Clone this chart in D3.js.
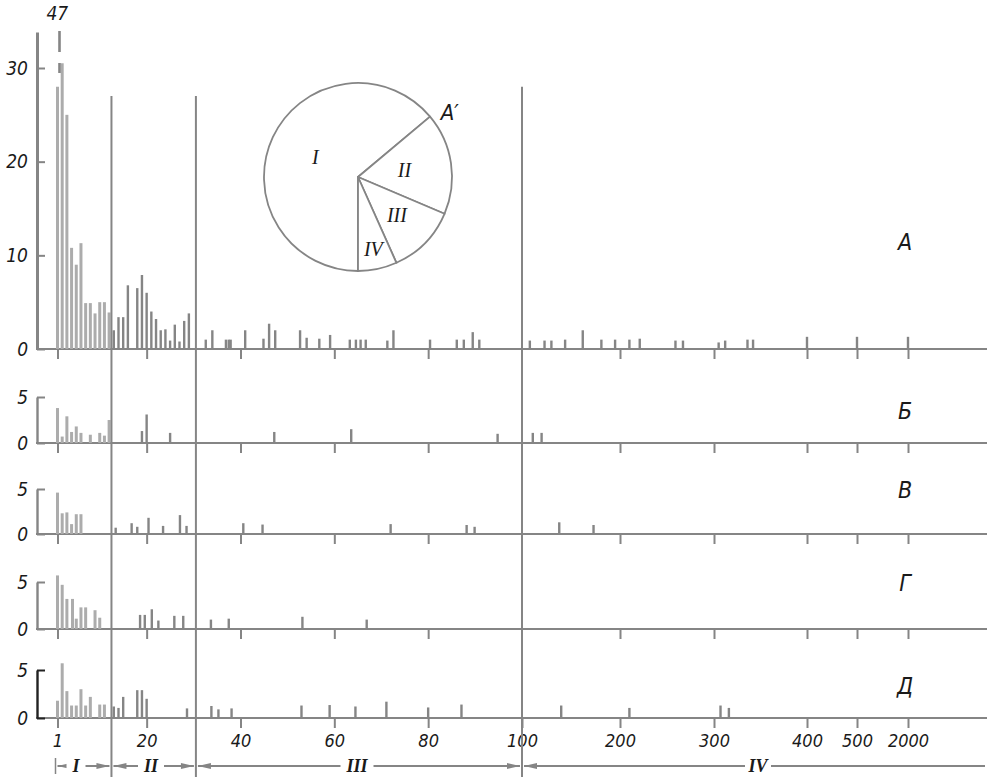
<!DOCTYPE html>
<html>
<head>
<meta charset="utf-8">
<script src="https://cdn.jsdelivr.net/npm/d3@7"></script>
<style>
  body { margin: 0; background: #fff; }
  .num { font-family: "DejaVu Sans Condensed", "DejaVu Sans", sans-serif; font-style: italic; fill: #1a1a1a; }
  .rom { font-family: "Liberation Serif", "DejaVu Serif", serif; font-style: italic; fill: #1a1a1a; }
</style>
</head>
<body>
<div id="chart"></div>
<script>
// x positions are species/group sizes, values are counts
const xTickValues = [1, 20, 40, 60, 80, 100, 200, 300, 400, 500, 2000];
const xTickLabels = ["1", "20", "40", "60", "80", "100", "200", "300", "400", "500", "2000"];
const regionNames = ["I", "II", "III", "IV"];
const regionBounds = [12.5, 30.5, 100];
const panelLetters = ["А", "Б", "В", "Г", "Д"];
const yTicksA = [0, 10, 20, 30];
const yTicksLow = [0, 5];
const pieShares = [63.9, 17.5, 11.9, 6.7];

const panelA = [
  [1, 47], [2, 30.5], [3, 25], [4, 10.8], [5, 9], [6, 11.3], [7, 4.9], [8, 4.9], [9, 3.8], [10, 5], [11, 5], [12, 3.9],
  [13, 2], [14, 3.4], [15, 3.4], [16, 6.8], [18, 6.5], [19, 7.9], [20, 6], [21, 4], [22, 3.2], [23, 2], [24, 2.1],
  [25, 0.9], [26, 2.6], [27, 0.8], [28, 3], [29, 3.8],
  [32.6, 1], [34, 2], [36.9, 1], [37.5, 1], [37.9, 1], [41, 2], [44.9, 1.1], [46.1, 2.7], [47.4, 2], [52.7, 2],
  [54.1, 1.2], [56.8, 1.1], [59.1, 1.5], [63.3, 1], [64.6, 1], [65.6, 1], [66.7, 1], [71.3, 0.9], [72.6, 2],
  [80.4, 1], [86.1, 1], [87.6, 1], [89.5, 1.8], [90.9, 1],
  [108, 0.9], [123, 0.9], [130, 0.9], [144, 1], [162, 2], [181, 1], [195, 1], [210, 1], [221, 1.1], [259, 0.9],
  [267, 0.9], [305, 0.7], [312, 0.9], [336, 1], [342, 1], [400, 1.3], [500, 1.3], [2000, 1.3]
];
const panelB = [
  [1, 3.8], [2, 0.7], [3, 2.9], [4, 1.2], [5, 1.8], [6, 1.1], [8, 0.9], [10, 1.1], [11, 0.8], [12, 2.5],
  [19, 1.3], [20, 3.1], [25, 1.1], [47.2, 1.2], [63.6, 1.5], [94.8, 1], [111, 1.1], [120, 1.1]
];
const panelV = [
  [1, 4.6], [2, 2.3], [3, 2.4], [4, 1.1], [5, 2.2], [6, 2.2], [13.4, 0.7], [16.8, 1.2], [18, 0.8], [20.4, 1.8],
  [23.5, 0.9], [27.1, 2.1], [28.5, 0.9], [40.6, 1.2], [44.7, 1.05], [72, 1.1], [88.2, 1], [89.9, 0.8], [138, 1.3], [173, 1]
];
const panelG = [
  [1, 5.7], [2, 4.7], [3, 3.2], [4.2, 3.2], [5, 1.1], [6, 2.3], [7, 2.3], [9, 2], [10, 1.2], [18.6, 1.5], [19.6, 1.5],
  [21.1, 2.1], [22.5, 0.9], [25.9, 1.4], [27.8, 1.4], [33.7, 1], [37.5, 1.1], [53.2, 1.3], [66.9, 1]
];
const panelD = [
  [1, 1.8], [2, 5.7], [3, 2.8], [4, 1.3], [5, 1.3], [6, 3], [7, 1.3], [8, 2.2], [10, 1.4], [11, 1.4], [13, 1.2],
  [14, 1.05], [15, 2.2], [18, 2.9], [19, 2.9], [20, 2], [28.6, 1], [33.8, 1.25], [35.3, 0.9], [38.1, 1], [53, 1.3],
  [59, 1.35], [64.5, 1.2], [71.1, 1.7], [80, 1.1], [87.1, 1.4], [140, 1.3], [210, 1.05], [307, 1.3], [316, 1.05]
];

const W = 987, H = 777;
const grey = "#858585", lightGrey = "#acacac";

const svg = d3.select("#chart").append("svg")
  .attr("width", W).attr("height", H)
  .style("background", "#fff");

// piecewise x axis: linear 1..100, then compressed steps
const x = d3.scaleLinear()
  .domain([1, 100, 200, 300, 400, 500, 2000])
  .range([57.5, 522, 620, 714, 807, 857, 908]);

const panels = [
  { data: panelA, base: 349, top: 68, max: 30, letterY: 242 },
  { data: panelB, base: 443, top: 397, max: 5, letterY: 411 },
  { data: panelV, base: 534, top: 489, max: 5, letterY: 490 },
  { data: panelG, base: 629, top: 582, max: 5, letterY: 583 },
  { data: panelD, base: 718, top: 670, max: 5, letterY: 686 }
];

const brokenAt = 28;

panels.forEach((p, i) => {
  const y = d3.scaleLinear().domain([0, p.max]).range([p.base, p.top]);
  const g = svg.append("g");

  // baseline
  g.append("line")
    .attr("x1", 36).attr("x2", W)
    .attr("y1", p.base).attr("y2", p.base)
    .attr("stroke", grey).attr("stroke-width", 2.2);

  // ticks under the baseline
  const axisX = d3.axisBottom(x)
    .tickValues(i === 4 ? xTickValues : xTickValues.filter((v) => v !== 100))
    .tickSize(10).tickPadding(6)
    .tickFormat(i === 4 ? (d) => xTickLabels[xTickValues.indexOf(d)] : "");
  const gx = g.append("g").attr("transform", `translate(0,${p.base})`).call(axisX);
  gx.select(".domain").remove();
  gx.selectAll(".tick line").attr("stroke", grey).attr("stroke-width", 2);
  gx.selectAll(".tick text").attr("class", "num").style("font-size", "18px").attr("fill", "#1a1a1a");

  // y axis
  const topPx = i === 0 ? 32 : p.top;
  const yAxisScale = y.copy().domain([0, y.invert(topPx)]).range([p.base, topPx]);
  const gy = g.append("g").attr("transform", "translate(37,0)")
    .call(d3.axisLeft(yAxisScale).tickValues(i === 0 ? yTicksA : yTicksLow)
      .tickFormat(d3.format("d"))
      .tickSize(-8).tickSizeOuter(0).tickPadding(9));
  gy.select(".domain").attr("stroke", i === 4 ? "#222" : grey).attr("stroke-width", i === 0 ? 3 : 2.4);
  gy.selectAll(".tick line").attr("stroke", i === 4 ? "#222" : grey).attr("stroke-width", 2);
  gy.selectAll(".tick text").attr("class", "num").style("font-size", "19px").attr("fill", "#1a1a1a");

  // bars
  g.selectAll("line.bar").data(p.data).join("line")
    .attr("class", "bar")
    .attr("x1", (d) => x(d[0])).attr("x2", (d) => x(d[0]))
    .attr("y1", y(0))
    .attr("y2", (d) => y(d[1] > p.max + 4 ? brokenAt : d[1]))
    .attr("stroke", (d) => (d[0] < regionBounds[0] ? lightGrey : grey))
    .attr("stroke-width", (d) => (d[0] < regionBounds[0] ? 3 : 2.4));

  // broken (off scale) bars
  p.data.filter((d) => d[1] > p.max + 4).forEach((d) => {
    g.append("line")
      .attr("x1", x(d[0]) + 2).attr("x2", x(d[0]) + 2)
      .attr("y1", topPx - 1).attr("y2", y(brokenAt) - 2)
      .attr("stroke", grey).attr("stroke-width", 2.6)
      .attr("stroke-dasharray", "21 11 10 12");
    g.append("text").attr("class", "num")
      .attr("x", x(d[0]) - 11).attr("y", 20)
      .style("font-size", "19px")
      .text(d[1]);
  });

  // panel letter
  g.append("text").attr("class", "num")
    .attr("x", 905).attr("y", p.letterY)
    .attr("text-anchor", "middle").attr("dominant-baseline", "central")
    .style("font-size", "23px")
    .text(panelLetters[i]);
});

// region separators
const yA = d3.scaleLinear().domain([0, 30]).range([349, 68]);
const sepTops = [27, 27, 28];
regionBounds.forEach((b, i) => {
  svg.append("line")
    .attr("x1", x(b)).attr("x2", x(b))
    .attr("y1", yA(sepTops[i])).attr("y2", H)
    .attr("stroke", grey).attr("stroke-width", 2);
});

// region arrows row
const rowY = 766;
const segs = [
  [x(1) - 2, x(regionBounds[0]), true],
  [x(regionBounds[0]), x(regionBounds[1]), true],
  [x(regionBounds[1]), x(regionBounds[2]), true],
  [x(regionBounds[2]), W, false]
];
const labelX = [76, 151, 357, 758];
const arrow = (tipX, dir) =>
  `M${tipX},${rowY} L${tipX + dir * 13},${rowY - 3} L${tipX + dir * 13},${rowY + 3} Z`;

svg.append("line")
  .attr("x1", x(1) - 2).attr("x2", x(1) - 2)
  .attr("y1", rowY - 8).attr("y2", rowY + 8)
  .attr("stroke", grey).attr("stroke-width", 1.5);

segs.forEach((s, i) => {
  svg.append("line")
    .attr("x1", s[0] + 2).attr("x2", s[1] - 2)
    .attr("y1", rowY).attr("y2", rowY)
    .attr("stroke", grey).attr("stroke-width", 2);
  svg.append("path").attr("d", arrow(s[0] + 2, 1)).attr("fill", grey);
  if (s[2]) svg.append("path").attr("d", arrow(s[1] - 2, -1)).attr("fill", grey);
  const w = regionNames[i].length * 7 + 12;
  svg.append("rect")
    .attr("x", labelX[i] - w / 2).attr("y", rowY - 7)
    .attr("width", w).attr("height", 14)
    .attr("fill", "#fff");
  svg.append("text").attr("class", "rom")
    .attr("x", labelX[i]).attr("y", rowY + 6)
    .attr("text-anchor", "middle")
    .style("font-size", "18px").style("font-weight", "bold")
    .text(regionNames[i]);
});

// pie A'
const cx = 358, cy = 177, r = 94;
const pie = d3.pie().sort(null).startAngle(Math.PI).endAngle(3 * Math.PI);
const arcs = pie(pieShares);
const arc = d3.arc().innerRadius(0).outerRadius(r);
const gp = svg.append("g").attr("transform", `translate(${cx},${cy})`);
gp.selectAll("path").data(arcs).join("path")
  .attr("d", arc)
  .attr("fill", "#fff")
  .attr("stroke", grey).attr("stroke-width", 1.8)
  .attr("stroke-linejoin", "round");
const labelR = [0.5, 0.5, 0.58, 0.78];
gp.selectAll("text").data(arcs).join("text")
  .attr("class", "rom")
  .attr("transform", (d, i) => {
    const c = d3.arc().innerRadius(r * labelR[i]).outerRadius(r * labelR[i]).centroid(d);
    return `translate(${c[0]},${c[1]})`;
  })
  .attr("text-anchor", "middle").attr("dominant-baseline", "central")
  .style("font-size", "20px")
  .text((d, i) => regionNames[i]);
const aAng = (55 * Math.PI) / 180;
gp.append("text").attr("class", "num")
  .attr("x", Math.sin(aAng) * 112).attr("y", -Math.cos(aAng) * 112)
  .attr("text-anchor", "middle").attr("dominant-baseline", "central")
  .style("font-size", "22px")
  .text("А′");
</script>
</body>
</html>
